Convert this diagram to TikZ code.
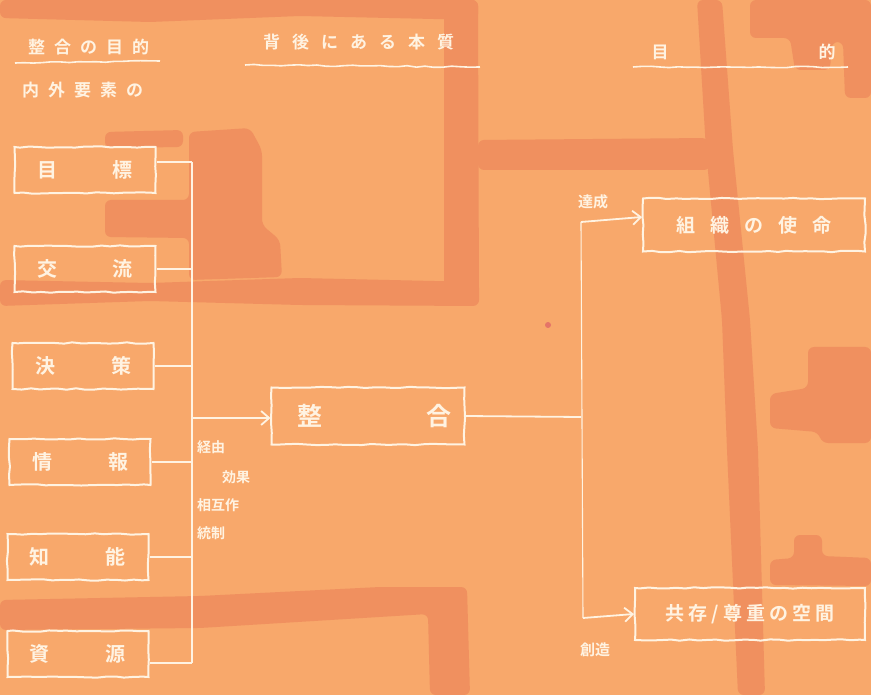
\documentclass[tikz,border=0pt]{standalone}
\usepackage{fontspec}
\newfontfamily\jp{Noto Sans CJK JP}[BoldFont={* Bold}]
\usetikzlibrary{arrows.meta,decorations.pathmorphing}
\definecolor{bgA}{HTML}{F8A86B}
\definecolor{bgB}{HTML}{F0905F}
\definecolor{chalk}{HTML}{FFF3E2}
\definecolor{dotc}{HTML}{E57468}
\newcommand\jg{\hspace{9pt}}
\begin{document}
\begin{tikzpicture}[x=1pt,y=-1pt,
  wob/.style={decorate,decoration={random steps,segment length=9pt,amplitude=0.7pt}},
  lbox/.style={draw=chalk,line width=2pt,wob,minimum width=141pt,minimum height=46pt,inner sep=0pt,
    text=chalk,font=\jp\bfseries\fontsize{20}{20}\selectfont},
  rbox/.style={draw=chalk,line width=2pt,wob,minimum height=53pt,inner sep=0pt,
    text=chalk,font=\jp\bfseries\fontsize{19}{19}\selectfont},
  wire/.style={draw=chalk,line width=1.8pt},
  thinwire/.style={draw=chalk,line width=1.1pt},
  tip/.style={-{Straight Barb[length=8pt,width=14pt,line width=1.8pt]}},
  head/.style={text=chalk,inner sep=0pt,font=\jp\bfseries\fontsize{17}{17}\selectfont},
  small/.style={text=chalk,inner sep=0pt,font=\jp\bfseries\fontsize{14}{14}\selectfont},
  uline/.style={draw=chalk,line width=1.6pt,wob}]
\pgfmathsetseed{7}
% background
\fill[bgA] (0,0) rectangle (871,695);
\useasboundingbox (0,0) rectangle (871,695);
\begin{scope}[bgB, rounded corners=6pt]
\fill (0,0) -- (478,0) -- (478,20) -- (300,16) -- (150,22) -- (0,18) -- cycle;
\fill (444,0) -- (478,0) -- (479,305) -- (444,300) -- cycle;
\fill (0,280) -- (150,283) -- (300,278) -- (479,282) -- (479,306) -- (300,305) -- (150,301) -- (0,306) -- cycle;
\fill (478,140) -- (708,138) -- (710,170) -- (478,170) -- cycle;
\fill (189,132) -- (250,128) -- (262,150) -- (262,225) -- (280,240) -- (282,277) -- (189,280) -- (189,238) -- (105,237) -- (105,200) -- (189,200) -- cycle;
\fill (105,132) -- (183,130) -- (183,147) -- (105,148) -- cycle;
\fill (697,0) -- (722,0) -- (733,150) -- (750,320) -- (758,450) -- (765,695) -- (738,695) -- (727,450) -- (722,320) -- (706,150) -- cycle;
\fill (750,0) -- (871,0) -- (871,98) -- (845,98) -- (843,42) -- (832,42) -- (830,70) -- (795,70) -- (790,38) -- (750,38) -- cycle;
\fill (808,347) -- (871,347) -- (871,443) -- (822,443) -- (818,432) -- (770,428) -- (770,394) -- (808,388) -- cycle;
\fill (794,535) -- (822,535) -- (822,556) -- (871,558) -- (871,586) -- (770,585) -- (770,560) -- (794,558) -- cycle;
\fill (0,600) -- (200,596) -- (380,587) -- (467,587) -- (470,695) -- (430,695) -- (428,614) -- (200,628) -- (0,630) -- cycle;
\end{scope}
\fill[dotc] (548,325) circle (3);
% headings
\node[head,anchor=west] (h1) at (28,47) {整\jg 合\jg の\jg 目\jg 的};
\draw[uline] (15,63) -- (160,61);
\node[head,anchor=west] (h1b) at (22,90) {内\jg 外\jg 要\jg 素\jg の};
\node[head,anchor=west] (h2) at (263,42) {背\hspace{12pt}後\hspace{12pt}に\hspace{12pt}あ\hspace{12pt}る\hspace{12pt}本\hspace{12pt}質};
\draw[uline] (245,65) -- (480,67);
\node[head] (h3a) at (660,52) {目};
\node[head] (h3b) at (827,52) {的};
\draw[uline] (633,67) -- (848,67);
% left boxes
\node[lbox] (b1) at (85,170) {目\hspace{56pt}標};
\node[lbox] (b2) at (85,269) {交\hspace{56pt}流};
\node[lbox] (b3) at (83,366) {決\hspace{56pt}策};
\node[lbox] (b4) at (80,462) {情\hspace{56pt}報};
\node[lbox] (b5) at (78,557) {知\hspace{56pt}能};
\node[lbox] (b6) at (78,654) {資\hspace{56pt}源};
% bus
\coordinate (bt) at (192,162);
\coordinate (bb) at (192,663);
\draw[wire] (bt) -- (bb);
\draw[wire] ([yshift=8pt]b1.east) -- (bt);
\draw[wire] (b2.east) -- (b2.east -| bt);
\draw[wire] (b3.east) -- (b3.east -| bt);
\draw[wire] (b4.east) -- (b4.east -| bt);
\draw[wire] (b5.east) -- (b5.east -| bt);
\draw[wire] ([yshift=-9pt]b6.east) -- (bb);
% centre
\node[rbox,minimum width=193pt,minimum height=57pt,font=\jp\bfseries\fontsize{25}{25}\selectfont] (mg) at (368,416) {\hspace{12pt}整\hspace{104pt}合};
\coordinate (ba) at (192,418);
\draw[wire,tip] (ba) -- (ba -| mg.west);
\node[small,anchor=west] (l1) at (197,447) {経由};
\node[small,anchor=west] (l2) at (222,477) {効果};
\node[small,anchor=west] (l3) at (197,505) {相互作};
\node[small,anchor=west] (l4) at (197,533) {統制};
% right side
\node[rbox,minimum width=222pt] (m1) at (754,225) {組\hspace{15pt}織\hspace{15pt}の\hspace{15pt}使\hspace{15pt}命};
\node[rbox,minimum width=230pt,minimum height=52pt] (m2) at (750,614) {共\hspace{4pt}存\hspace{4pt}/\hspace{4pt}尊\hspace{4pt}重\hspace{4pt}の\hspace{4pt}空\hspace{4pt}間};
\coordinate (j) at (581,417);
\coordinate (vt) at (581,222);
\coordinate (vb) at (583,618);
\draw[wire] (mg.east) -- (j);
\draw[thinwire] (vt) -- (vb);
\draw[wire,tip] (vt) -- ([yshift=8pt]m1.west);
\draw[wire,tip] (vb) -- (m2.west);
\node[small,font=\jp\bfseries\fontsize{15}{15}\selectfont] (t1) at (593,202) {達成};
\node[small,font=\jp\bfseries\fontsize{15}{15}\selectfont] (t2) at (595,650) {創造};
\end{tikzpicture}
\end{document}
